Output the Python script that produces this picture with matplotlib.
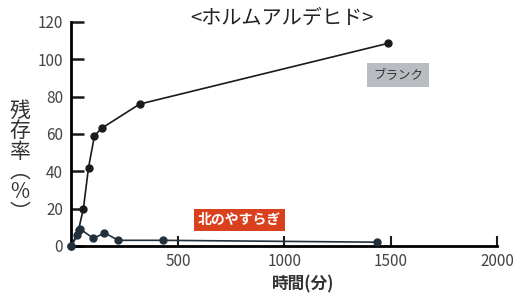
import matplotlib
matplotlib.use('agg')
import matplotlib.pyplot as plt

plt.rcParams['font.family'] = ['Noto Sans CJK JP', 'DejaVu Sans']

# ブランク (blank)
blank_t = [0, 33, 56, 80, 108, 141, 320, 1485]
blank_v = [0, 8.5, 20, 42, 59, 63, 76, 108.5]

# 北のやすらぎ
kita_t = [0, 28, 42, 103, 155, 220, 430, 1435]
kita_v = [0, 6, 9, 4, 7, 3, 3, 2]

xticks = [500, 1000, 1500, 2000]
yticks = [0, 20, 40, 60, 80, 100, 120]


def main():
    fig = plt.figure(figsize=(5.18, 2.97), dpi=100)
    ax = fig.add_axes([0.138, 0.172, 0.822, 0.754])

    ax.plot(blank_t, blank_v, color='#1a1a1a', lw=1.2, marker='o', ms=5,
            clip_on=False, zorder=3)
    ax.plot(kita_t, kita_v, color='#22303c', lw=1.2, marker='o', ms=5,
            clip_on=False, zorder=3)

    ax.set_xlim(0, 2000)
    ax.set_ylim(0, 120)
    ax.set_xticks(xticks)
    ax.set_yticks(yticks)
    ax.spines['top'].set_visible(False)
    ax.spines['right'].set_visible(False)
    ax.spines['left'].set_linewidth(2)
    ax.spines['bottom'].set_linewidth(2)
    ax.tick_params(axis='y', direction='in', length=9, width=1.8,
                   labelsize=11, colors='#1a1a1a', labelcolor='#444444', pad=6)
    ax.tick_params(axis='x', direction='in', length=7, width=1.5,
                   labelsize=11, colors='#1a1a1a', labelcolor='#444444', pad=5)

    fig.text(0.545, 0.937, '<ホルムアルデヒド>', fontsize=14.5, color='#222222',
             ha='center', va='center')
    fig.text(0.585, 0.012, '時間(分)', fontsize=12, color='#333333',
             ha='center', va='bottom', fontweight='bold')
    fig.text(0.039, 0.455, '残\n存\n率\n︵\n%\n︶', fontsize=15, color='#333333',
             ha='center', va='center', linespacing=0.9)

    ax.text(1534, 91.5, 'ブランク', fontsize=9, color='#333333', ha='center',
            va='center',
            bbox=dict(boxstyle='square,pad=0.45', fc='#b9bdc1', ec='none'))
    ax.text(790, 14, '北のやすらぎ', fontsize=10, color='white', ha='center',
            va='center', fontweight='bold',
            bbox=dict(boxstyle='square,pad=0.3', fc='#d8401e', ec='none'))

    fig.savefig('out.png', dpi=100)


if __name__ == '__main__':
    main()
